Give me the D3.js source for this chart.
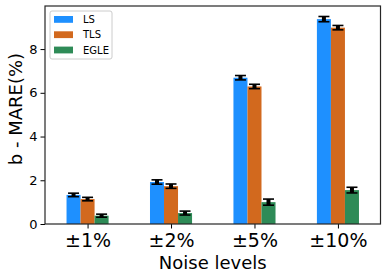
<!doctype html>
<html lang="en">
<head>
  <meta charset="utf-8">
  <title>b - MARE bars</title>
  <script src="https://d3js.org/d3.v7.min.js"></script>
  <style>
    body { margin: 0; background: #fff; }
    text { font-family: "DejaVu Sans", sans-serif; }
  </style>
</head>
<body>
  <div id="chart"></div>
  <script type="text/javascript">
    // data
    var categories = ["±1%", "±2%", "±5%", "±10%"];
    var seriesNames = ["LS", "TLS", "EGLE"];
    var lsValues = [1.33, 1.92, 6.69, 9.37];
    var tlsValues = [1.14, 1.73, 6.29, 8.98];
    var egleValues = [0.38, 0.50, 1.00, 1.55];
    var lsErrors = [0.08, 0.10, 0.10, 0.12];
    var tlsErrors = [0.08, 0.10, 0.10, 0.10];
    var egleErrors = [0.07, 0.09, 0.14, 0.13];
    var yTicks = [0, 2, 4, 6, 8];

    var colors = ["#1e90ff", "#d2691e", "#2e8b57"];

    var width = 387, height = 279;
    var plotL = 45, plotR = 380.5, plotT = 6, plotB = 224;

    var svg = d3.select('#chart')
      .append('svg')
      .attr('width', width)
      .attr('height', height);

    // x is a continuous axis like matplotlib, groups at 0..3
    var x = d3.scaleLinear().domain([-0.51, 3.51]).range([plotL, plotR]);
    var y = d3.scaleLinear().domain([0, 9.97]).range([plotB, plotT]);
    var barW = 0.168;

    var series = [
      {name: seriesNames[0], values: lsValues, errors: lsErrors},
      {name: seriesNames[1], values: tlsValues, errors: tlsErrors},
      {name: seriesNames[2], values: egleValues, errors: egleErrors}
    ];

    var groups = svg.selectAll('.series')
      .data(series)
      .enter()
      .append('g')
      .attr('class', 'series')
      .attr('fill', function(d, i) { return colors[i]; });

    groups.each(function(s, si) {
      var g = d3.select(this);
      var off = (si - 1) * barW;
      g.selectAll('rect')
        .data(s.values)
        .enter()
        .append('rect')
        .attr('x', function(d, i) { return x(i + off - barW / 2); })
        .attr('width', function() { return x(barW) - x(0); })
        .attr('y', function(d) { return y(d); })
        .attr('height', function(d) { return y(0) - y(d); });

      // error bars
      var eb = g.selectAll('.err')
        .data(s.values)
        .enter()
        .append('g')
        .attr('class', 'err')
        .attr('stroke', '#000');
      eb.append('line')
        .attr('x1', function(d, i) { return x(i + off); })
        .attr('x2', function(d, i) { return x(i + off); })
        .attr('y1', function(d, i) { return y(d - s.errors[i]); })
        .attr('y2', function(d, i) { return y(d + s.errors[i]); })
        .attr('stroke-width', 4);
      [-1, 1].forEach(function(sign) {
        eb.append('line')
          .attr('x1', function(d, i) { return x(i + off) - 5.5; })
          .attr('x2', function(d, i) { return x(i + off) + 5.5; })
          .attr('y1', function(d, i) { return y(d + sign * s.errors[i]); })
          .attr('y2', function(d, i) { return y(d + sign * s.errors[i]); })
          .attr('stroke-width', 1.6);
      });
    });

    // axes
    var yAxis = svg.append('g')
      .attr('transform', 'translate(' + plotL + ',0)')
      .call(d3.axisLeft(y).tickValues(yTicks).tickSize(4.5).tickPadding(3));
    yAxis.attr('font-size', null).attr('font-family', null);
    yAxis.selectAll('text').style('font-size', '13px').attr('fill', '#000');

    var xAxis = svg.append('g')
      .attr('transform', 'translate(0,' + plotB + ')')
      .call(d3.axisBottom(x).tickValues([0, 1, 2, 3]).tickFormat(function(d) { return categories[d]; }).tickSize(4.5));
    xAxis.attr('font-size', null).attr('font-family', null);
    xAxis.selectAll('text')
      .style('font-size', '19px')
      .attr('fill', '#000')
      .attr('y', 23)
      .attr('dy', null);

    svg.selectAll('.domain').remove();
    svg.selectAll('.tick line').attr('stroke', '#000').attr('stroke-width', 1);

    // frame
    svg.append('rect')
      .attr('x', plotL)
      .attr('y', plotT)
      .attr('width', plotR - plotL)
      .attr('height', plotB - plotT)
      .attr('fill', 'none')
      .attr('stroke', '#262626')
      .attr('stroke-width', 1.2);

    // axis labels
    svg.append('text')
      .attr('x', (plotL + plotR) / 2)
      .attr('y', 269)
      .attr('text-anchor', 'middle')
      .style('font-size', '18px')
      .text('Noise levels');

    svg.append('text')
      .attr('transform', 'translate(22,109) rotate(-90)')
      .attr('text-anchor', 'middle')
      .style('font-size', '18px')
      .text('b - MARE(%)');

    // legend
    var legend = svg.append('g').attr('transform', 'translate(50,11)');
    legend.append('rect')
      .attr('width', 62).attr('height', 48)
      .attr('rx', 2)
      .attr('fill', '#fff').attr('fill-opacity', 0.8)
      .attr('stroke', '#ccc').attr('stroke-width', 1);
    var item = legend.selectAll('.item')
      .data(seriesNames)
      .enter()
      .append('g')
      .attr('class', 'item')
      .attr('transform', function(d, i) { return 'translate(0,' + (8.3 + i * 15.3) + ')'; });
    item.append('rect')
      .attr('x', 4).attr('y', -3.3)
      .attr('width', 19).attr('height', 6.8)
      .attr('fill', function(d, i) { return colors[i]; });
    item.append('text')
      .attr('x', 33).attr('y', 3.8)
      .style('font-size', '10px')
      .text(function(d) { return d; });
  </script>
</body>
</html>
